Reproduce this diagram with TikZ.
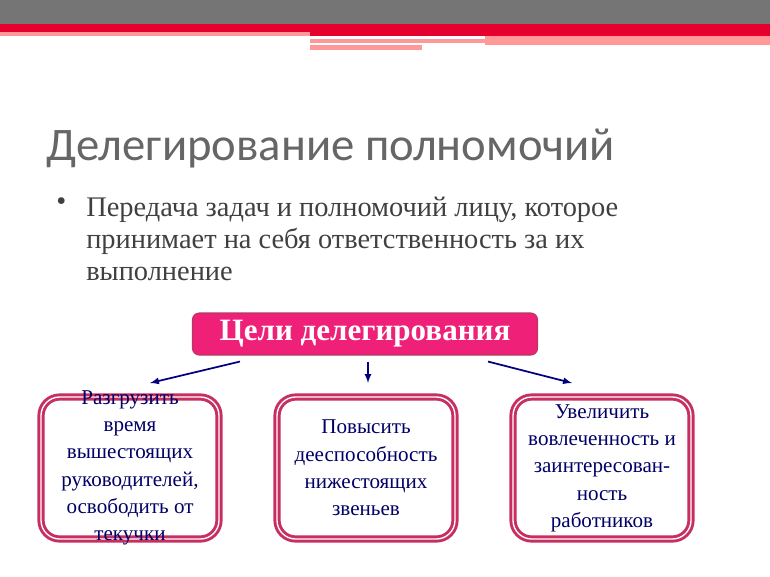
\documentclass[tikz,border=0pt]{standalone}
\usepackage{fontspec}
\setmainfont{Liberation Serif}
\newfontfamily\titlefont{Carlito}
\begin{document}
\begin{tikzpicture}[x=0.75pt,y=-0.75pt,
  goal/.style={draw=magenta!60!red!80!black,line width=2.2pt,double=white,double distance=1pt,fill=white,rounded corners=14pt,minimum width=178pt*0.75,minimum height=142pt*0.75,inner sep=0pt},
  goaltext/.style={inner sep=0pt,align=center,text=blue!40!black,font=\fontsize{15.8}{20.5}\selectfont},
  arr/.style={-latex,draw=blue!50!black,line width=1.3pt}]
\useasboundingbox (0,0) rectangle (770,576);
\fill[gray!65!black!80] (0,0) rectangle (770,24);
\fill[red!80!magenta!90!black] (0,24) rectangle (770,34);
\fill[pink!80!red] (0,32) rectangle (310,36);
\fill[red!80!magenta!90!black] (310,34) rectangle (770,36);
\fill[pink!80!red] (310,39) rectangle (485,43);
\fill[pink!80!red] (310,45) rectangle (422,50);
\fill[pink!80!red] (485,36) rectangle (770,45);
\node[anchor=base west,text=gray!80!black,font=\titlefont\fontsize{35}{40}\selectfont] (title) at (42,160) {Делегирование полномочий};
\node[anchor=north west,text=gray!50!black,align=left,font=\fontsize{21.3}{24}\selectfont,inner sep=0] (txt) at (86,197) {Передача задач и полномочий лицу, которое\\принимает на себя ответственность за их\\выполнение};
\node[anchor=north west,text=gray!50!black,font=\fontsize{21.3}{24}\selectfont,inner sep=0] (bul) at (56,197) {•};
\node[fill=magenta!70!red!90,draw=magenta!60!red!70!black,line width=0.8pt,rounded corners=5pt,minimum width=345pt*0.75,minimum height=42pt*0.75,text=white,font=\bfseries\fontsize{23.3}{24}\selectfont] (head) at (365,334) {Цели делегирования};
\node[goal] (g1) at (130,468) {};
\node[goal] (g2) at (366,468) {};
\node[goal] (g3) at (602,468) {};
\node[goaltext] (t1) at (g1) {Разгрузить\\время\\вышестоящих\\руководителей,\\освободить от\\текучки};
\node[goaltext] (t2) at (g2) {Повысить\\дееспособность\\нижестоящих\\звеньев};
\node[goaltext] (t3) at (g3) {Увеличить\\вовлеченность и\\заинтересован-\\ность\\работников};
\coordinate (a1) at (150,383); \coordinate (a2) at (368,383); \coordinate (a3) at (572,383);
\draw[arr] (head.south-|240,0) ++(0,6) -- (a1);
\draw[arr] (head.south-|368,0) ++(0,6) -- (a2);
\draw[arr] (head.south-|488,0) ++(0,6) -- (a3);
\end{tikzpicture}
\end{document}
